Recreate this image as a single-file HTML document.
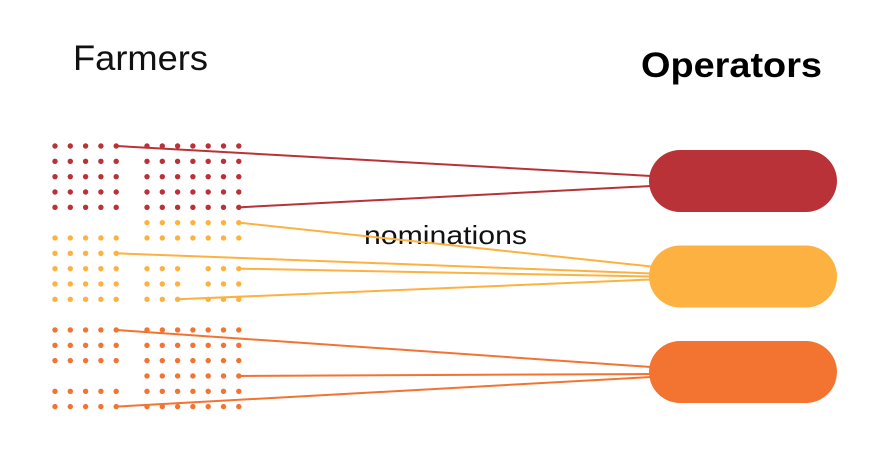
<!DOCTYPE html>
<html><head><meta charset="utf-8"><style>
html,body{margin:0;padding:0;background:#fff;}
svg{display:block;}
text{font-family:"Liberation Sans",sans-serif;}
</style></head><body>
<svg id="chart" width="870" height="452" viewBox="0 0 870 452" xmlns="http://www.w3.org/2000/svg">
<text x="73" y="70" font-size="35" textLength="135" lengthAdjust="spacingAndGlyphs" fill="#111">Farmers</text>
<text x="641" y="77" font-size="35" font-weight="bold" textLength="181" lengthAdjust="spacingAndGlyphs" fill="#000">Operators</text>
<text x="364" y="244" font-size="26" textLength="163" lengthAdjust="spacingAndGlyphs" fill="#111">nominations</text>
<g id="links"></g>
<g id="dots"></g>
<g id="pills"></g>
</svg>
<script>
// Operators (pills)
const operators = ['red', 'yellow', 'orange'];
const operatorColors = ['#b93237', '#fdb140', '#f37331'];
// farmer grid: each row string, left block 5 cols, right block 7 cols; letter = operator (r/y/o), '.' = empty
const leftRows = ['rrrrr','rrrrr','rrrrr','rrrrr','rrrrr','.....','yyyyy','yyyyy','yyyyy','yyyyy','yyyyy','.....','ooooo','ooooo','ooooo','.....','ooooo','ooooo'];
const rightRows = ['rrrrrrr','rrrrrrr','rrrrrrr','rrrrrrr','rrrrrrr','yyyyyyy','yyyyyyy','.......','yyy.yyy','yyy.yyy','yyy.yyy','.......','ooooooo','ooooooo','ooooooo','ooooooo','ooooooo','ooooooo'];
// nominations: [block(0 left,1 right), row, col, operator index, target offset]
const linkBlock = [0,1, 1,0,1,1, 0,1,0];
const linkRow = [0,4, 5,7,8,10, 12,15,17];
const linkCol = [4,6, 6,4,6,2, 4,6,4];
const linkOp = [0,0, 1,1,1,1, 2,2,2];
const linkTarget = [-5,5, -10,-3,0,3, -5,2,5];

const svgNS='http://www.w3.org/2000/svg';
const rowY = r => 146 + r*15.33;
const colX = (b,c) => b===0 ? 55 + c*15.3 : 147 + c*15.3;
const pillX=649, pillW=188, pillH=62;
const pillCY = i => 181 + i*95.5;
const codeIdx = {r:0,y:1,o:2};

const dotsG=document.getElementById('dots');
[leftRows,rightRows].forEach((rows,b)=>{
  rows.forEach((s,r)=>{
    [...s].forEach((ch,c)=>{
      if(ch==='.') return;
      const d=document.createElementNS(svgNS,'circle');
      
      
      d.setAttribute('cx',colX(b,c)); d.setAttribute('cy',rowY(r)); d.setAttribute('r',2.7);
      d.setAttribute('fill',operatorColors[codeIdx[ch]]);
      dotsG.appendChild(d);
    });
  });
});

const linksG=document.getElementById('links');
linkBlock.forEach((b,i)=>{
  const l=document.createElementNS(svgNS,'line');
  
  
  l.setAttribute('x1',colX(b,linkCol[i])); l.setAttribute('y1',rowY(linkRow[i]));
  l.setAttribute('x2',pillX+2); l.setAttribute('y2',pillCY(linkOp[i])+linkTarget[i]);
  l.setAttribute('stroke',operatorColors[linkOp[i]]); l.setAttribute('stroke-width',2);
  linksG.appendChild(l);
});

const pillsG=document.getElementById('pills');
operators.forEach((op,i)=>{
  const p=document.createElementNS(svgNS,'rect');
  
  
  p.setAttribute('x',pillX); p.setAttribute('y',pillCY(i)-pillH/2);
  p.setAttribute('width',pillW); p.setAttribute('height',pillH);
  p.setAttribute('rx',pillH/2); p.setAttribute('fill',operatorColors[i]);
  pillsG.appendChild(p);
});
</script>
</body></html>
